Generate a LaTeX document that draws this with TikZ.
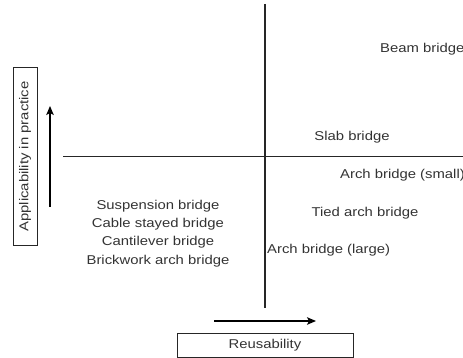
\documentclass[tikz,border=0pt]{standalone}
\usepackage{fontspec}
\setmainfont{Liberation Sans}[FakeStretch=1.16]
\usetikzlibrary{arrows.meta}
\definecolor{ink}{HTML}{333333}
\tikzset{
  lbl/.style={inner sep=0pt, text=ink, font=\fontsize{12.8}{18.3}\selectfont},
  axis/.style={line width=1.1pt, draw=black!85},
  tag/.style={draw=black!85, line width=1pt, inner sep=0pt},
  dir/.style={line width=1.1pt, -{Stealth[length=9pt,width=7.5pt,inset=2pt]}}
}
\begin{document}
\begin{tikzpicture}[x=1pt,y=-1pt]
\useasboundingbox (0,0) rectangle (463,358);
\clip (0,0) rectangle (463,358);

% quadrant axes
\coordinate (vtop) at (265,4);
\coordinate (vbot) at (265,308);
\coordinate (hleft) at (63,156.5);
\coordinate (hright) at (470,156.5);
\draw[axis] (vtop) -- (vbot);
\draw[axis] (hleft) -- (hright);

% axis caption boxes
\node[tag, minimum width=24pt, minimum height=177pt] (ybox) at (25,156.5) {};
\node[lbl, rotate=90] (ytext) at (ybox.center) {Applicability in practice};
\node[tag, minimum width=176pt, minimum height=24pt] (xbox) at (265,345) {};
\node[lbl] (xtext) at (xbox.center) {Reusability};

% direction arrows
\coordinate (ya) at (50,207);
\coordinate (yb) at (50,106);
\draw[dir] (ya) -- (yb);
\coordinate (xa) at (214,321);
\coordinate (xb) at (316,321);
\draw[dir] (xa) -- (xb);

% bridge types
\node[lbl, anchor=west] (beam) at (380,49) {Beam bridge};
\node[lbl] (slab) at (352,137) {Slab bridge};
\node[lbl, anchor=west] (archs) at (340,175) {Arch bridge (small)};
\node[lbl] (tied) at (365,213) {Tied arch bridge};
\node[lbl, anchor=west] (archl) at (267,250) {Arch bridge (large)};
\node[lbl, align=center] (group) at (158,233.5) {Suspension bridge\\Cable stayed bridge\\Cantilever bridge\\Brickwork arch bridge};
\end{tikzpicture}
\end{document}
